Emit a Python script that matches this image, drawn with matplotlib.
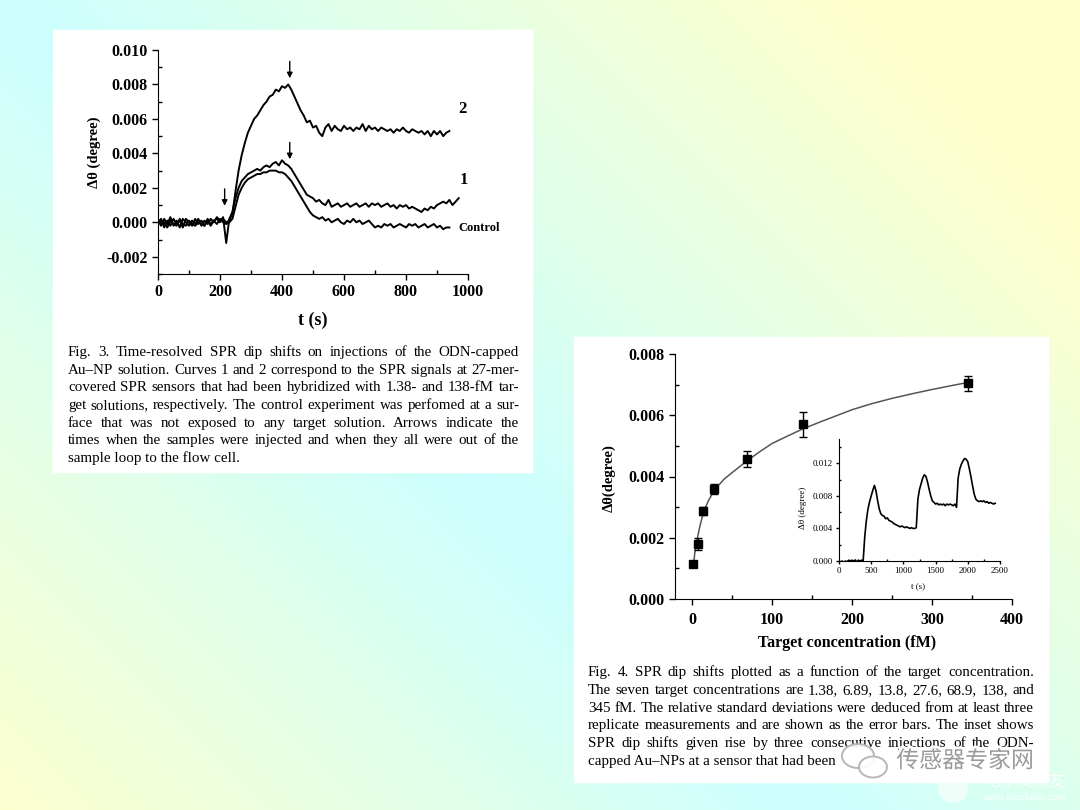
import numpy as np
import matplotlib.pyplot as plt
from matplotlib.patches import Rectangle, Ellipse, Circle
from matplotlib.ticker import MultipleLocator, FormatStrFormatter
import matplotlib.patheffects as pe

# ---- data (milli-degree for the time traces) ----
# Fig. 3 traces, one value every 10 s
curve2 = [0.1, -0.2, 0.2, -0.1, 0.3, -0.2, 0.1, -0.3, 0.2, 0.0,
          -0.2, 0.1, -0.1, 0.2, -0.2, 0.1, -0.1, 0.2, 0.0, 0.3,
          0.1, 0.2, 0.0, 0.1, 0.5, 1.8, 3.0, 3.9, 4.6, 5.2,
          5.6, 6.0, 6.2, 6.5, 6.8, 7.0, 7.3, 7.4, 7.7, 7.6,
          7.9, 7.8, 8.0, 7.7, 7.3, 6.9, 6.5, 6.2, 5.8, 5.9,
          5.5, 5.6, 5.2, 5.0, 5.5, 5.7, 5.3, 5.6, 5.4, 5.3,
          5.6, 5.4, 5.5, 5.3, 5.5, 5.4, 5.7, 5.3, 5.6, 5.4,
          5.5, 5.3, 5.5, 5.4, 5.3, 5.4, 5.2, 5.4, 5.3, 5.5,
          5.3, 5.2, 5.4, 5.3, 5.2, 5.3, 5.1, 5.3, 5.0, 5.3,
          5.1, 5.3, 5.0, 5.2, 5.3]
curve1 = [-0.1, 0.2, -0.3, 0.1, -0.2, 0.2, -0.1, 0.1, -0.3, 0.2,
          0.0, -0.2, 0.2, -0.1, 0.1, -0.2, 0.2, -0.1, 0.1, 0.2,
          0.0, 0.3, -1.2, 0.2, 0.6, 1.4, 2.0, 2.4, 2.6, 2.8,
          2.9, 3.0, 3.1, 3.0, 3.2, 3.3, 3.2, 3.4, 3.5, 3.3,
          3.6, 3.4, 3.3, 3.1, 2.8, 2.5, 2.2, 1.9, 1.6, 1.5,
          1.4, 1.2, 1.3, 1.1, 1.0, 1.3, 0.9, 1.0, 1.1, 0.9,
          1.0, 1.1, 0.9, 1.0, 1.1, 0.9, 1.0, 1.1, 0.9, 1.1,
          1.0, 1.1, 0.9, 1.0, 1.1, 0.9, 1.0, 0.8, 1.0, 0.9,
          1.0, 0.8, 0.9, 0.8, 0.7, 0.6, 0.8, 0.7, 0.9, 0.8,
          1.0, 1.1, 1.2, 1.1, 1.3, 1.0, 1.2, 1.4]
control = [0.2, -0.1, 0.0, -0.3, 0.1, -0.1, -0.2, 0.2, -0.1, -0.2,
           0.1, -0.1, -0.2, 0.0, -0.1, -0.2, 0.1, -0.2, 0.1, -0.1,
           0.2, 0.0, -0.1, 0.0, 0.2, 0.9, 1.6, 2.0, 2.3, 2.5,
           2.6, 2.7, 2.8, 2.8, 2.9, 2.9, 3.0, 3.0, 3.0, 2.9,
           2.9, 2.8, 2.6, 2.4, 2.1, 1.8, 1.5, 1.2, 0.9, 0.6,
           0.4, 0.3, 0.2, 0.3, 0.1, 0.2, 0.0, 0.1, 0.2, 0.0,
           -0.1, 0.1, 0.0, 0.2, 0.0, 0.1, -0.1, 0.0, 0.1, -0.1,
           -0.3, -0.2, -0.3, -0.1, -0.2, -0.1, -0.3, -0.2, -0.1, -0.2,
           -0.3, -0.1, -0.2, -0.1, -0.3, -0.2, -0.1, -0.3, -0.2, -0.1,
           -0.3, -0.2, -0.4, -0.3, -0.3]

# Fig. 4 calibration points
conc = [1.38, 6.89, 13.8, 27.6, 68.9, 138, 345]
shift = [0.00114, 0.00180, 0.00286, 0.00360, 0.00457, 0.00570, 0.00704]
shift_err = [0.00005, 0.00020, 0.00013, 0.00017, 0.00027, 0.00042, 0.00024]
fit_x = [1.38, 3, 5, 8, 10, 13.8, 20, 27.6, 40, 50, 68.9, 85, 100, 120, 138, 160,
         180, 200, 225, 250, 275, 300, 325, 345]
fit_y = [0.00110, 0.00148, 0.00180, 0.00220, 0.00243, 0.00283, 0.00320, 0.00356,
         0.00392, 0.00413, 0.00452, 0.00482, 0.00508, 0.00533, 0.00555, 0.00578,
         0.00598, 0.00618, 0.00638, 0.00655, 0.00670, 0.00684, 0.00697, 0.00707]

# Fig. 4 inset trace, one value every 25 s
inset = [0.0, -0.1, 0.0, -0.2, 0.0, -0.1, 0.1, 0.0, 0.1, 0.0,
         0.1, -0.1, 0.1, 0.0, 0.1, 0.0, 3.0, 5.0, 6.4, 7.3,
         8.0, 8.7, 9.3, 8.6, 7.4, 6.4, 5.8, 5.6, 5.5, 5.2,
         5.3, 5.0, 4.9, 4.8, 4.6, 4.5, 4.4, 4.3, 4.2, 4.3,
         4.2, 4.1, 4.2, 4.1, 4.0, 4.1, 4.0, 4.0, 4.1, 7.6,
         8.8, 9.5, 10.2, 10.6, 10.4, 9.7, 8.8, 8.0, 7.4, 7.2,
         7.0, 7.1, 6.9, 7.0, 6.9, 7.0, 6.8, 7.0, 6.9, 7.0,
         6.9, 6.8, 7.0, 6.6, 10.2, 11.3, 11.9, 12.3, 12.6, 12.5,
         12.2, 11.3, 10.3, 9.2, 8.2, 7.6, 7.4, 7.3, 7.4, 7.3,
         7.4, 7.2, 7.3, 7.1, 7.2, 7.1, 7.0, 7.1]

caption3 = [
    "Fig. 3. Time-resolved SPR dip shifts on injections of the ODN-capped",
    "Au–NP solution. Curves 1 and 2 correspond to the SPR signals at 27-mer-",
    "covered SPR sensors that had been hybridized with 1.38- and 138-fM tar-",
    "get solutions, respectively. The control experiment was perfomed at a sur-",
    "face that was not exposed to any target solution. Arrows indicate the",
    "times when the samples were injected and when they all were out of the",
    "sample loop to the flow cell.",
]
caption4 = [
    "Fig. 4. SPR dip shifts plotted as a function of the target concentration.",
    "The seven target concentrations are 1.38, 6.89, 13.8, 27.6, 68.9, 138, and",
    "345 fM. The relative standard deviations were deduced from at least three",
    "replicate measurements and are shown as the error bars. The inset shows",
    "SPR dip shifts given rise by three consecutive injections of the ODN-",
    "capped Au–NPs at a sensor that had been",
]

W, H = 1080, 810


def fx(px):
    return px / W


def fy(py):
    return 1 - py / H


plt.rcParams['font.family'] = ['Liberation Serif', 'DejaVu Serif']

fig = plt.figure(figsize=(10.8, 8.1), dpi=100)

# background gradient + white panels
bg = fig.add_axes([0, 0, 1, 1], zorder=-5)
bg.set_xlim(0, W)
bg.set_ylim(H, 0)
bg.axis('off')
xx, yy = np.meshgrid(np.arange(W), np.arange(H))
k = np.clip(np.abs(xx - yy) / 850.0, 0, 1)[..., None]
cyan = np.array([204, 255, 255]) / 255
yellow = np.array([255, 255, 204]) / 255
bg.imshow(cyan * (1 - k) + yellow * k, extent=(0, W, H, 0), aspect='auto')
bg.add_patch(Rectangle((53, 30), 479, 442, color='white'))
bg.add_patch(Rectangle((574, 337), 474, 445, color='white'))


def style_axes(ax, size, bold=True):
    ax.spines['top'].set_visible(False)
    ax.spines['right'].set_visible(False)
    ax.tick_params(which='major', direction='out', length=4, width=1, labelsize=size, pad=3.5)
    ax.tick_params(which='minor', direction='in', length=3, width=1)
    if bold:
        for lbl in ax.get_xticklabels() + ax.get_yticklabels():
            lbl.set_fontweight('bold')


# ---- Fig. 3 ----
ax1 = fig.add_axes([fx(158), fy(274), 310 / W, 224 / H])
ax1.plot(10 * np.arange(len(curve2)), np.array(curve2) / 1000, color='black', lw=1.4)
ax1.plot(10 * np.arange(len(curve1)), np.array(curve1) / 1000, color='black', lw=1.4)
ax1.plot(10 * np.arange(len(control)), np.array(control) / 1000, color='black', lw=1.4)
ax1.set_xlim(0, 1000)
ax1.set_ylim(-0.003, 0.010)
ax1.xaxis.set_major_locator(MultipleLocator(200))
ax1.xaxis.set_minor_locator(MultipleLocator(100))
ax1.yaxis.set_major_locator(MultipleLocator(0.002))
ax1.yaxis.set_minor_locator(MultipleLocator(0.001))
ax1.yaxis.set_major_formatter(FormatStrFormatter('%.3f'))
style_axes(ax1, 11.5)
ax1.set_xlabel('t (s)', fontsize=13, fontweight='bold')
ax1.xaxis.set_label_coords(0.5, -0.17)
ax1.set_ylabel('Δθ (degree)', fontsize=10.5, fontweight='bold')
ax1.yaxis.set_label_coords(-0.184, 0.545)

arrow = dict(arrowstyle='-|>', color='black', lw=1, mutation_scale=8)
ax1.annotate('', xy=(215, 0.0008), xytext=(215, 0.0021), arrowprops=arrow)
ax1.annotate('', xy=(425, 0.0082), xytext=(425, 0.0095), arrowprops=arrow)
ax1.annotate('', xy=(425, 0.0035), xytext=(425, 0.0048), arrowprops=arrow)
ax1.text(968, 0.0066, '2', fontsize=12, fontweight='bold', va='center')
ax1.text(973, 0.00245, '1', fontsize=12, fontweight='bold', va='center')
ax1.text(968, -0.00033, 'Control', fontsize=9, fontweight='bold', va='center')

# ---- Fig. 4 ----
ax2 = fig.add_axes([fx(675), fy(599), 336.7 / W, 245 / H])
ax2.plot(fit_x, fit_y, color='#555555', lw=1.1)
ax2.errorbar(conc, shift, yerr=shift_err, fmt='s', color='black', ms=5.5,
             capsize=3, elinewidth=1, capthick=1)
ax2.set_xlim(-21.7, 400)
ax2.set_ylim(0, 0.008)
ax2.xaxis.set_major_locator(MultipleLocator(100))
ax2.xaxis.set_minor_locator(MultipleLocator(50))
ax2.yaxis.set_major_locator(MultipleLocator(0.002))
ax2.yaxis.set_minor_locator(MultipleLocator(0.001))
ax2.yaxis.set_major_formatter(FormatStrFormatter('%.3f'))
style_axes(ax2, 11.5)
ax2.tick_params(axis='x', pad=5)
ax2.set_xlabel('Target concentration (fM)', fontsize=11.5, fontweight='bold')
ax2.xaxis.set_label_coords(0.51, -0.147)
ax2.set_ylabel('Δθ(degree)', fontsize=10.5, fontweight='bold')
ax2.yaxis.set_label_coords(-0.175, 0.494)

ax3 = fig.add_axes([fx(839), fy(561), 161 / W, 122 / H])
ax3.plot(25 * np.arange(len(inset)), np.array(inset) / 1000, color='black', lw=1.2)
ax3.set_xlim(0, 2500)
ax3.set_ylim(0, 0.015)
ax3.xaxis.set_major_locator(MultipleLocator(500))
ax3.xaxis.set_minor_locator(MultipleLocator(250))
ax3.yaxis.set_major_locator(MultipleLocator(0.004))
ax3.yaxis.set_minor_locator(MultipleLocator(0.002))
ax3.yaxis.set_major_formatter(FormatStrFormatter('%.3f'))
style_axes(ax3, 6.5, bold=False)
ax3.tick_params(which='major', length=2.5, pad=2)
ax3.tick_params(which='minor', length=1.5)
ax3.set_xlabel('t (s)', fontsize=6.5)
ax3.xaxis.set_label_coords(0.49, -0.18)
ax3.set_ylabel('Δθ (degree)', fontsize=6.5)
ax3.yaxis.set_label_coords(-0.20, 0.44)

# ---- captions (justified) ----
renderer = fig.canvas.get_renderer()


def paragraph(lines, x0, x1, y0, dy, size):
    for i, line in enumerate(lines):
        yb = fy(y0 + i * dy + 4)
        words = line.split(' ')
        if i == len(lines) - 1:
            fig.text(fx(x0), yb, line, fontsize=size, va='baseline')
            continue
        objs = [fig.text(0, yb, w, fontsize=size, va='baseline') for w in words]
        widths = [o.get_window_extent(renderer).width for o in objs]
        gap = max((x1 - x0 - sum(widths)) / (len(words) - 1), 2)
        x = x0
        for o, w in zip(objs, widths):
            o.set_x(fx(x))
            x += w + gap


paragraph(caption3, 68, 519, 352, 17.7, 10.8)
paragraph(caption4, 588, 1034, 672, 17.8, 10.8)

# ---- watermarks ----
ov = fig.add_axes([0, 0, 1, 1], zorder=10)
ov.set_xlim(0, W)
ov.set_ylim(H, 0)
ov.axis('off')
ov.patch.set_alpha(0)
ov.add_patch(Ellipse((858, 756), 32, 24, fc='white', ec='#b0b0b0', lw=1.4, alpha=0.9))
ov.add_patch(Ellipse((873, 767), 28, 21, fc='white', ec='#b0b0b0', lw=1.4, alpha=0.9))
ov.text(965, 761, '传感器专家网', fontsize=16.5, color='#9a9a9a', ha='center', va='center',
        family=['Noto Sans CJK SC', 'DejaVu Sans'],
        path_effects=[pe.withStroke(linewidth=4, foreground='white')])
ov.add_patch(Circle((953, 788), 15, fc='white', ec='none', alpha=0.6))
ov.text(1025, 782, '电子发烧友', fontsize=11.5, color='white', alpha=0.85, ha='center', va='center',
        family=['Noto Sans CJK SC', 'DejaVu Sans'])
ov.text(1025, 797, 'www.elecfans.com', fontsize=6.5, color='white', alpha=0.85, ha='center',
        va='center', family=['DejaVu Sans'])

fig.savefig('out.png', dpi=100)
